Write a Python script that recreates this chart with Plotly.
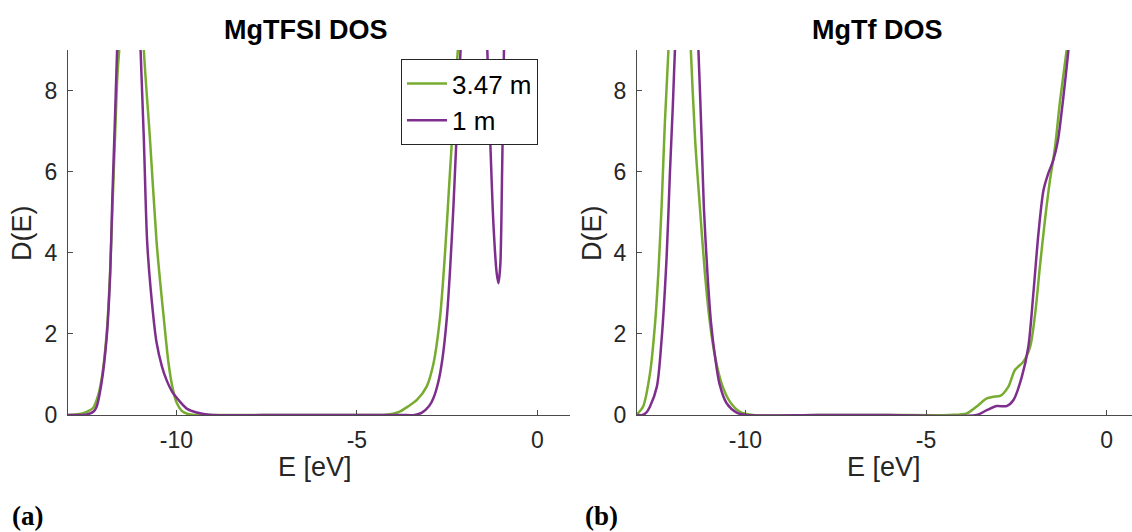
import plotly.graph_objects as go

# ---------------- data ----------------
# Panel (a): MgTFSI DOS
a_e_347 = [-13.0, -12.8, -12.6, -12.45, -12.3, -12.16, -12.05, -11.93, -11.84, -11.77,
           -11.70, -11.63, -11.56, -11.45, -11.24, -11.03, -10.90, -10.73, -10.55, -10.45,
           -10.36, -10.22, -10.10, -9.99, -9.85, -9.70, -9.50, -9.2, -8.0, -6.0,
           -4.6, -4.3, -4.0, -3.8, -3.6, -3.34, -3.07, -2.88, -2.70, -2.56,
           -2.45, -2.36, -2.24, -2.15, -2.0, -1.5, -1.0, -0.5]
a_d_347 = [0.0, 0.01, 0.04, 0.09, 0.18, 0.5, 1.0, 2.0, 3.4, 5.1,
           6.8, 8.4, 9.3, 12.5, 15.0, 12.0, 9.0, 6.8, 4.3, 3.3,
           2.5, 1.3, 0.65, 0.3, 0.1, 0.03, 0.0, 0.0, 0.0, 0.0,
           0.0, 0.0, 0.03, 0.09, 0.2, 0.37, 0.7, 1.27, 2.4, 4.0,
           5.6, 6.9, 8.6, 9.6, 11.5, 14.0, 15.0, 16.0]

a_e_1 = [-13.0, -12.6, -12.45, -12.3, -12.21, -12.07, -11.93, -11.84, -11.77, -11.70,
         -11.64, -11.50, -11.32, -11.12, -10.99, -10.90, -10.81, -10.71, -10.55, -10.40,
         -10.27, -10.10, -9.90, -9.70, -9.44, -9.2, -9.0, -7.0, -5.0, -3.8,
         -3.4, -3.2, -3.0, -2.88, -2.75, -2.63, -2.51, -2.42, -2.33, -2.24,
         -2.18, -2.12, -2.0, -1.8, -1.6, -1.45, -1.39, -1.31, -1.22, -1.13,
         -1.08, -1.03, -0.98, -0.945, -0.92, -0.85, -0.7, -0.5]
a_d_1 = [0.0, 0.0, 0.02, 0.08, 0.2, 0.8, 1.9, 3.3, 5.4, 7.3,
         9.0, 12.5, 15.0, 12.5, 9.0, 6.8, 4.3, 3.1, 1.8, 1.2,
         0.86, 0.55, 0.33, 0.15, 0.06, 0.02, 0.0, 0.0, 0.0, 0.0,
         0.0, 0.06, 0.22, 0.42, 0.8, 1.4, 2.4, 3.6, 5.1, 6.9,
         8.0, 9.2, 11.0, 12.5, 12.0, 10.0, 9.0, 6.8, 4.7, 3.5,
         3.25, 3.7, 6.0, 8.0, 9.5, 12.0, 14.0, 15.0]

# Panel (b): MgTf DOS
b_e_347 = [-13.0, -12.83, -12.64, -12.50, -12.41, -12.32, -12.23, -12.13, -12.0, -11.82,
           -11.64, -11.51, -11.39, -11.26, -11.12, -10.98, -10.84, -10.66, -10.43, -10.15,
           -9.78, -8.0, -6.0, -4.34, -3.87, -3.60, -3.32, -3.14, -2.95, -2.72,
           -2.54, -2.31, -2.12, -1.98, -1.85, -1.71, -1.57, -1.43, -1.29, -1.11,
           -0.95, -0.8]
b_d_347 = [0.02, 0.21, 1.03, 2.26, 3.49, 5.13, 7.18, 9.0, 12.0, 14.0,
           12.0, 9.0, 6.77, 5.13, 3.49, 2.26, 1.44, 0.78, 0.33, 0.08,
           0.0, 0.0, 0.0, 0.0, 0.04, 0.21, 0.41, 0.45, 0.47, 0.70,
           1.11, 1.31, 1.68, 2.50, 3.65, 4.80, 5.79, 6.61, 7.76, 8.99,
           10.2, 11.4]

b_e_1 = [-13.0, -12.85, -12.75, -12.64, -12.45, -12.32, -12.18, -12.09, -12.01, -11.95,
         -11.80, -11.62, -11.45, -11.30, -11.21, -11.15, -11.05, -10.95, -10.84, -10.72,
         -10.52, -10.24, -9.98, -8.0, -6.0, -3.60, -3.32, -3.04, -2.77, -2.58,
         -2.35, -2.17, -2.03, -1.89, -1.75, -1.62, -1.48, -1.35, -1.21, -1.06,
         -0.9, -0.8]
b_d_1 = [0.0, 0.0, 0.05, 0.21, 0.70, 1.85, 3.90, 5.95, 7.59, 9.0,
         12.0, 14.0, 12.0, 9.0, 6.77, 5.13, 3.49, 2.26, 1.44, 0.78,
         0.29, 0.06, 0.0, 0.0, 0.0, 0.0, 0.12, 0.22, 0.22, 0.37,
         0.94, 1.68, 3.0, 4.47, 5.54, 5.95, 6.28, 6.77, 7.76, 8.99,
         10.5, 11.5]

series_names = ["3.47 m", "1 m"]
panel_titles = ["MgTFSI DOS", "MgTf DOS"]
panel_tags = ["(a)", "(b)"]
x_ticks = [-10, -5, 0]
x_tick_labels = ["-10", "-5", "0"]
y_ticks = [0, 2, 4, 6, 8]
y_tick_labels = ["0", "2", "4", "6", "8"]

# ---------------- styling ----------------
W, H = 1132, 532
GREEN = "#77AC30"
PURPLE = "#7E2F8E"
AXC = "#262626"
LINEC = "#4a4a4a"
FONT = "Liberation Sans"


def fx(px):
    return px / W


def fy(py):
    return 1 - py / H


fig = go.Figure()

traces = [
    (a_e_347, a_d_347, GREEN, series_names[0], "x", "y", True),
    (a_e_1, a_d_1, PURPLE, series_names[1], "x", "y", True),
    (b_e_347, b_d_347, GREEN, series_names[0], "x2", "y2", False),
    (b_e_1, b_d_1, PURPLE, series_names[1], "x2", "y2", False),
]
for e, d, c, n, xa, ya, sl in traces:
    fig.add_trace(go.Scatter(
        x=e, y=d, mode="lines", name=n, xaxis=xa, yaxis=ya, showlegend=sl,
        line=dict(color=c, width=2.5, shape="spline", smoothing=0.8),
    ))

axis_common = dict(
    showgrid=False, zeroline=False, showline=True, linecolor=LINEC, linewidth=1,
    ticks="inside", ticklen=5, tickcolor=LINEC, tickwidth=1, automargin=False,
    tickfont=dict(family=FONT, size=23, color=AXC), mirror=False,
)

y_dom = [fy(415), fy(50)]
fig.update_layout(
    width=W, height=H,
    margin=dict(l=0, r=0, t=0, b=0),
    paper_bgcolor="white", plot_bgcolor="white",
    xaxis=dict(domain=[fx(68), fx(570)], range=[-13, 0.9], tickvals=x_ticks,
               ticktext=x_tick_labels, anchor="y", ticklabelstandoff=4, **axis_common),
    yaxis=dict(domain=y_dom, range=[0, 9], tickvals=y_ticks, ticktext=y_tick_labels,
               anchor="x", ticklabelstandoff=5, **axis_common),
    xaxis2=dict(domain=[fx(637), 1.0], range=[-13, 0.70], tickvals=x_ticks,
                ticktext=x_tick_labels, anchor="y2", ticklabelstandoff=4, **axis_common),
    yaxis2=dict(domain=y_dom, range=[0, 9], tickvals=y_ticks, ticktext=y_tick_labels,
                anchor="x2", ticklabelstandoff=5, **axis_common),
    legend=dict(x=fx(401), y=fy(59), xanchor="left", yanchor="top",
                bordercolor=AXC, borderwidth=1, bgcolor="white",
                font=dict(family=FONT, size=26, color="black"),
                tracegroupgap=0, itemwidth=40),
    showlegend=True,
)

ann = []
for t, cx in zip(panel_titles, [306, 877]):
    ann.append(dict(text=t, x=fx(cx), y=fy(30), xref="paper", yref="paper",
                    showarrow=False, xanchor="center", yanchor="middle",
                    font=dict(family=FONT, size=27, color="black", weight="bold")))
for cx in [315, 884]:
    ann.append(dict(text="E [eV]", x=fx(cx), y=fy(467), xref="paper", yref="paper",
                    showarrow=False, xanchor="center", yanchor="middle",
                    font=dict(family=FONT, size=27, color=AXC)))
for cx in [22, 592]:
    ann.append(dict(text="D(E)", x=fx(cx), y=fy(233), xref="paper", yref="paper",
                    showarrow=False, xanchor="center", yanchor="middle", textangle=-90,
                    font=dict(family=FONT, size=27, color=AXC)))
for t, cx in zip(panel_tags, [27, 601]):
    ann.append(dict(text=t, x=fx(cx), y=fy(516), xref="paper", yref="paper",
                    showarrow=False, xanchor="center", yanchor="middle",
                    font=dict(family="Liberation Serif", size=27, color="black", weight="bold")))
fig.update_layout(annotations=ann)

fig.write_html("out.html")
